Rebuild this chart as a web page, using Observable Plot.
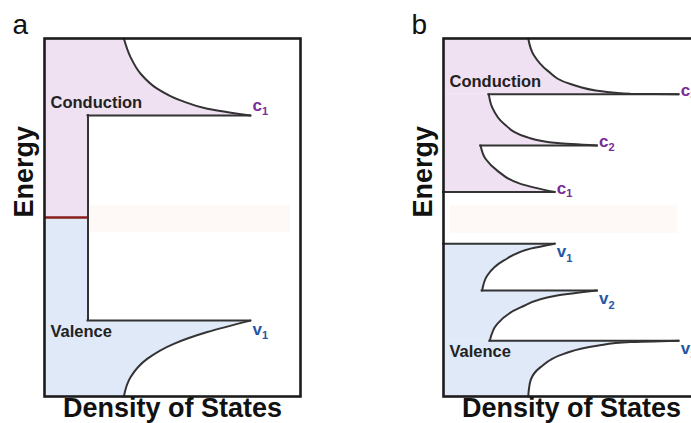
<!DOCTYPE html>
<html>
<head>
<meta charset="utf-8">
<script src="https://cdn.jsdelivr.net/npm/d3@7"></script>
<script src="https://cdn.jsdelivr.net/npm/@observablehq/plot@0.6"></script>
<style>
  html, body { margin: 0; padding: 0; background: #fff; overflow: hidden; width: 691px; height: 423px; }
  #wrap { position: relative; width: 691px; height: 423px; overflow: hidden; }
  #pa, #pb { position: absolute; top: 0; }
  #pa { left: 0; width: 345px; }
  #pb { left: 345px; width: 364px; }
  #pa svg, #pb svg { max-width: none !important; display: block; }
</style>
</head>
<body>
<div id="wrap"><div id="pa"></div><div id="pb"></div></div>
<script>
// ---------- Panel a: bulk semiconductor (energy vs density of states, arbitrary units) ----------
const bulkBands = ["c1", "v1"];
const bulkEdgeEnergy = [78.5, 21.2];
const bulkPeakDOS = [80.5, 80.5];
const bulkStepDOS = 17;
const bulkMidGap = 50;
const bulkCondEnergy = [78.5, 80.4, 82.7, 86.0, 90.2, 94.8, 100];
const bulkCondDOS    = [80.5, 63.6, 53.1, 44.0, 37.5, 33.6, 31.0];
const bulkValEnergy  = [0, 5.4, 10.5, 14.7, 18.0, 21.2];
const bulkValDOS     = [31.0, 33.6, 40.1, 50.5, 63.6, 80.5];
const bulkGapGlow = {dos: [18, 96], energy: [45.8, 53.4]};

// ---------- Panel b: quantised subbands ----------
const subBands = ["c1", "c2", "c3", "v1", "v2", "v3"];
const subEdgeEnergy = [57.1, 70.1, 84.4, 42.7, 29.6, 15.6];
const subPeakDOS    = [43.5, 60.0, 91.9, 43.5, 60.0, 91.9];
const subStepDOS    = [0, 14.5, 17.7, 0, 15.1, 18.1];
const c1Energy = [57.1, 59.4, 63.1, 66.4, 70.1];
const c1DOS    = [43.5, 30.1, 21.0, 16.4, 14.5];
const c2Energy = [70.1, 70.8, 72.4, 76.2, 80.8, 84.4];
const c2DOS    = [60.0, 44.4, 32.7, 23.6, 19.0, 17.7];
const c3Energy = [84.4, 84.6, 85.2, 87.3, 91.1, 95.3, 100];
const c3DOS    = [91.9, 73.0, 62.6, 49.6, 40.5, 35.3, 33.1];
const v1Energy = [29.6, 33.8, 38.0, 41.3, 42.7];
const v1DOS    = [15.1, 17.1, 23.6, 34.0, 43.5];
const v2Energy = [15.6, 20.3, 24.9, 28.2, 29.6];
const v2DOS    = [18.1, 21.0, 30.1, 44.4, 60.0];
const v3Energy = [0, 4.5, 8.2, 11.9, 14.2, 15.2, 15.6];
const v3DOS    = [33.1, 34.0, 37.9, 47.0, 60.0, 73.0, 91.9];
const subGapGlow = {dos: [2.7, 91.4], energy: [45.5, 53.4]};

// ---------- styling ----------
const FONT = "'Liberation Sans', Arial, Helvetica, sans-serif";
const INK = "#333333";
const FRAME = "#1c1c1c";
const PINK = "#f0e1f2";
const BLUE = "#dfe9f8";
const PURPLE = "#7b2a96";
const NAVY = "#2456a6";
const FERMI = "#8a1c1c";
const GLOW = "#fef8f7";

const rowsFrom = (band, E, D) => E.map((e, i) => ({band, E: e, dos: D[i]}));
const edgeRows = (names, E, peak, step) =>
  names.map((n, i) => ({band: n, letter: n[0], index: n.slice(1), E: E[i], peak: peak[i], step: step[i]}));

function frameText(letter) {
  return [
    Plot.text([letter], {frameAnchor: "top-left", dx: -32, dy: -5, textAnchor: "start", lineAnchor: "bottom",
      fontSize: 28, fill: "#111"}),
    Plot.text(["Energy"], {frameAnchor: "left", rotate: -90, dx: -12, lineAnchor: "bottom",
      fontSize: 27, fontWeight: "bold", fill: "#111"}),
    Plot.text(["Density of States"], {frameAnchor: "bottom", dy: 20, lineAnchor: "bottom",
      fontSize: 27, fontWeight: "bold", fill: "#111"})
  ];
}

function bandNames(top, bottom) {
  return [
    Plot.text([top], {x: 0, y: "E", text: () => "Conduction", dx: 6, dy: -7, textAnchor: "start",
      lineAnchor: "bottom", fontSize: 16.5, fontWeight: "bold", fill: "#222"}),
    Plot.text([bottom], {x: 0, y: "E", text: () => "Valence", dx: 6, dy: 16, textAnchor: "start",
      lineAnchor: "bottom", fontSize: 16.5, fontWeight: "bold", fill: "#222"})
  ];
}

function edgeLabels(rows, color, dyLetter, dyIndex) {
  return [
    Plot.text(rows, {x: "peak", y: "E", text: "letter", dx: 2, dy: dyLetter, textAnchor: "start",
      lineAnchor: "bottom", fontSize: 17, fontWeight: "bold", fill: color}),
    Plot.text(rows, {x: "peak", y: "E", text: "index", dx: 11.5, dy: dyIndex, textAnchor: "start",
      lineAnchor: "bottom", fontSize: 11, fontWeight: "bold", fill: color})
  ];
}

const common = {
  height: 423, marginTop: 38, marginBottom: 27,
  x: {domain: [0, 100], axis: null},
  y: {domain: [0, 100], axis: null},
  style: {fontFamily: FONT, background: "transparent", overflow: "visible"}
};

// ---------- panel a ----------
{
  const cond = rowsFrom("c1", bulkCondEnergy, bulkCondDOS);
  const val = rowsFrom("v1", bulkValEnergy, bulkValDOS);
  const edges = edgeRows(bulkBands, bulkEdgeEnergy, bulkPeakDOS, [bulkStepDOS, bulkStepDOS]);
  const cEdges = edges.filter(d => d.letter === "c");
  const vEdges = edges.filter(d => d.letter === "v");

  const chart = Plot.plot({
    ...common,
    width: 345, marginLeft: 44, marginRight: 45,
    marks: [
      Plot.rect([{x1: 0, x2: bulkStepDOS, y1: bulkMidGap, y2: bulkEdgeEnergy[0]}],
        {x1: "x1", x2: "x2", y1: "y1", y2: "y2", fill: PINK}),
      Plot.rect([{x1: 0, x2: bulkStepDOS, y1: bulkEdgeEnergy[1], y2: bulkMidGap}],
        {x1: "x1", x2: "x2", y1: "y1", y2: "y2", fill: BLUE}),
      Plot.areaX(cond, {y: "E", x1: 0, x2: "dos", fill: PINK, curve: "monotone-y"}),
      Plot.areaX(val, {y: "E", x1: 0, x2: "dos", fill: BLUE, curve: "monotone-y"}),
      Plot.rect([bulkGapGlow], {x1: d => d.dos[0], x2: d => d.dos[1], y1: d => d.energy[0], y2: d => d.energy[1], fill: GLOW}),
      Plot.ruleY([bulkMidGap], {x1: 0, x2: bulkStepDOS, stroke: FERMI, strokeWidth: 2.5}),
      Plot.ruleX([bulkStepDOS], {y1: bulkEdgeEnergy[1], y2: bulkEdgeEnergy[0], stroke: INK, strokeWidth: 2, strokeLinecap: "square"}),
      Plot.ruleY(edges, {y: "E", x1: "step", x2: "peak", stroke: INK, strokeWidth: 2, strokeLinecap: "square"}),
      Plot.line([...cond, ...val], {x: "dos", y: "E", z: "band", curve: "monotone-y", stroke: INK, strokeWidth: 2}),
      Plot.frame({stroke: FRAME, strokeWidth: 2.6}),
      ...bandNames(cEdges[0], vEdges[0]),
      ...edgeLabels(cEdges, PURPLE, -4, 0),
      ...edgeLabels(vEdges, NAVY, 14, 18),
      ...frameText("a")
    ]
  });
  document.getElementById("pa").append(chart);
}

// ---------- panel b ----------
{
  const curves = [
    rowsFrom("c1", c1Energy, c1DOS), rowsFrom("c2", c2Energy, c2DOS), rowsFrom("c3", c3Energy, c3DOS),
    rowsFrom("v1", v1Energy, v1DOS), rowsFrom("v2", v2Energy, v2DOS), rowsFrom("v3", v3Energy, v3DOS)
  ];
  const edges = edgeRows(subBands, subEdgeEnergy, subPeakDOS, subStepDOS);
  const cEdges = edges.filter(d => d.letter === "c");
  const vEdges = edges.filter(d => d.letter === "v");
  const topC = cEdges.reduce((a, b) => (b.E > a.E ? b : a));
  const lowV = vEdges.reduce((a, b) => (b.E < a.E ? b : a));

  const chart = Plot.plot({
    ...common,
    width: 364, marginLeft: 98, marginRight: 10,
    marks: [
      ...curves.map(rows => Plot.areaX(rows, {y: "E", x1: 0, x2: "dos",
        fill: rows[0].band[0] === "c" ? PINK : BLUE, curve: "monotone-y"})),
      Plot.rect([subGapGlow], {x1: d => d.dos[0], x2: d => d.dos[1], y1: d => d.energy[0], y2: d => d.energy[1], fill: GLOW}),
      Plot.ruleY(edges, {y: "E", x1: "step", x2: "peak", stroke: INK, strokeWidth: 2, strokeLinecap: "square"}),
      Plot.line(curves.flat(), {x: "dos", y: "E", z: "band", curve: "monotone-y", stroke: INK, strokeWidth: 2}),
      Plot.frame({stroke: FRAME, strokeWidth: 2.6}),
      ...bandNames(topC, lowV),
      ...edgeLabels(cEdges, PURPLE, 1.5, 5),
      ...edgeLabels(vEdges, NAVY, 13.5, 18),
      ...frameText("b")
    ]
  });
  document.getElementById("pb").append(chart);
}
</script>
</body>
</html>
